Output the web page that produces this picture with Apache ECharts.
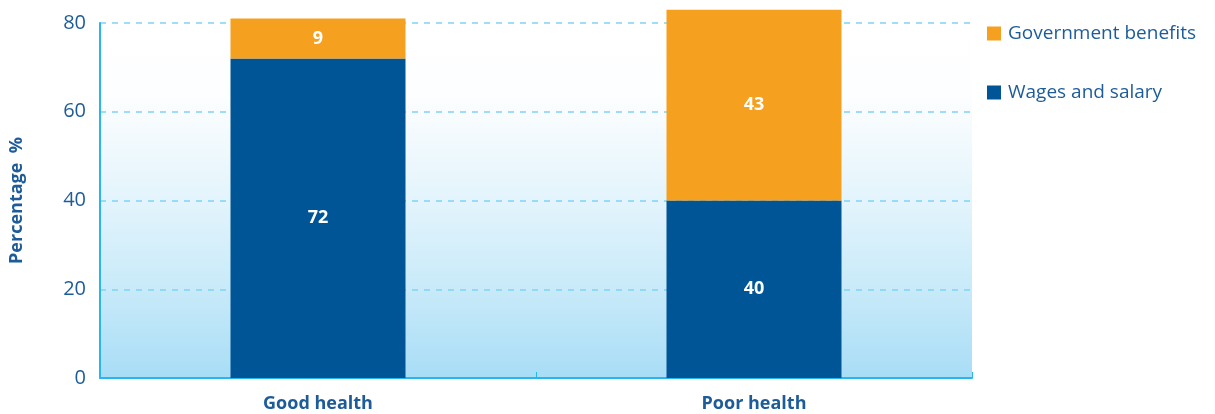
<!DOCTYPE html>
<html>
<head>
<meta charset="utf-8">
<script src="https://cdn.jsdelivr.net/npm/echarts@6/dist/echarts.min.js"></script>
<style>
  html, body { margin: 0; padding: 0; background: #ffffff; }
  #chart { width: 1215px; height: 414px; }
</style>
</head>
<body>
<div id="chart"></div>
<script>
// Income source by self-reported health status
const categories = ['Good health', 'Poor health'];
const wagesAndSalary = [72, 40];
const governmentBenefits = [9, 43];
const yTicks = [0, 20, 40, 60, 80];

const FONT = '"Open Sans", "Noto Sans", sans-serif';
const TEXT_BLUE = '#1d5c99';
const AXIS_CYAN = '#29b6ef';

const chart = echarts.init(document.getElementById('chart'));

chart.setOption({
  animation: false,
  grid: {
    left: 99, right: 243, top: 23, bottom: 36,
    show: true,
    borderWidth: 0,
    backgroundColor: {
      type: 'linear', x: 0, y: 0, x2: 0, y2: 1,
      colorStops: [
        { offset: 0, color: '#ffffff' },
        { offset: 0.2, color: '#fdfeff' },
        { offset: 0.5, color: '#e3f4fc' },
        { offset: 0.75, color: '#c8eaf9' },
        { offset: 1, color: '#a8ddf6' }
      ]
    }
  },
  legend: {
    orient: 'vertical',
    left: 982, top: 19,
    itemGap: 40,
    itemWidth: 14, itemHeight: 14,
    icon: 'rect',
    data: ['Government benefits', 'Wages and salary'],
    textStyle: { fontFamily: FONT, fontSize: 19, color: TEXT_BLUE, padding: [0, 0, 0, 2] }
  },
  xAxis: {
    type: 'category',
    data: categories,
    axisLine: { lineStyle: { color: AXIS_CYAN, width: 2 } },
    axisTick: { show: true, inside: true, length: 6, lineStyle: { color: AXIS_CYAN } },
    axisLabel: { fontFamily: FONT, fontSize: 18, fontWeight: 'bold', color: TEXT_BLUE, margin: 17 },
    splitLine: { show: false }
  },
  yAxis: {
    type: 'value',
    min: yTicks[0],
    max: yTicks[yTicks.length - 1],
    interval: 20,
    name: 'Percentage  %',
    nameLocation: 'middle',
    nameGap: 74,
    nameTextStyle: { fontFamily: FONT, fontSize: 18, fontWeight: 'bold', color: TEXT_BLUE },
    axisLine: { show: true, lineStyle: { color: AXIS_CYAN, width: 2 } },
    axisTick: { show: false },
    axisLabel: { fontFamily: FONT, fontSize: 20, color: TEXT_BLUE, margin: 14 },
    splitLine: { show: true, lineStyle: { color: '#7fd3f3', type: [6, 6], width: 1.5 } }
  },
  series: [
    {
      name: 'Wages and salary',
      type: 'bar',
      stack: 'income',
      data: wagesAndSalary,
      barWidth: 175,
      clip: false,
      itemStyle: { color: '#005596' },
      label: { show: true, position: 'inside', fontFamily: FONT, fontSize: 18, fontWeight: 'bold', color: '#ffffff' }
    },
    {
      name: 'Government benefits',
      type: 'bar',
      stack: 'income',
      data: governmentBenefits,
      barWidth: 175,
      clip: false,
      itemStyle: { color: '#f5a01e' },
      label: { show: true, position: 'inside', fontFamily: FONT, fontSize: 18, fontWeight: 'bold', color: '#ffffff' }
    }
  ]
});
</script>
</body>
</html>
